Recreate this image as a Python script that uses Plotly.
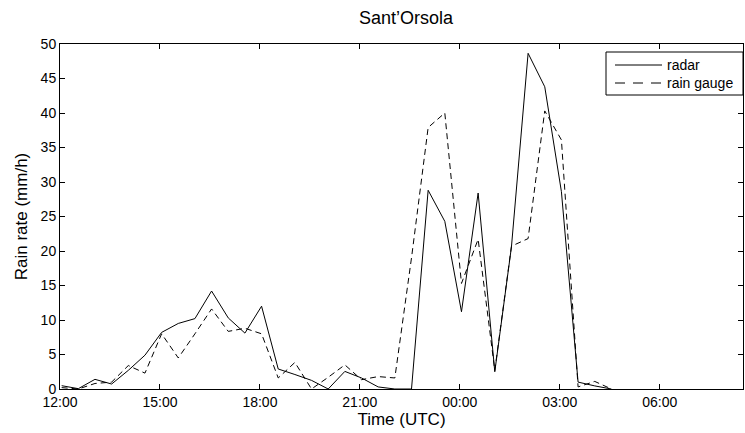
import plotly.graph_objects as go
from datetime import datetime, timedelta

# Sample times (UTC), 30-minute steps, running past midnight
time_labels = [
    "12:03", "12:33", "13:03", "13:33", "14:03", "14:33", "15:03", "15:33",
    "16:03", "16:33", "17:03", "17:33", "18:03", "18:33", "19:03", "19:33",
    "20:03", "20:33", "21:03", "21:33", "22:03", "22:33", "23:03", "23:33",
    "00:03", "00:33", "01:03", "01:33", "02:03", "02:33", "03:03", "03:33",
    "04:03", "04:33",
]

# Rain rate (mm/h)
radar = [
    0.48, 0.05, 1.4, 0.72, 2.7, 4.9, 8.2, 9.5,
    10.2, 14.2, 10.3, 8.1, 12.0, 2.9, 2.1, 1.25,
    0.0, 2.55, 1.6, 0.3, 0.0, 0.0, 28.8, 24.3,
    11.2, 28.4, 2.5, 20.6, 48.65, 43.8, 28.6, 1.0,
    0.45, 0.0,
]
rain_gauge = [
    0.2, 0.0, 0.8, 1.0, 3.4, 2.3, 8.0, 4.5,
    8.0, 11.6, 8.35, 8.8, 8.0, 1.6, 3.85, 0.0,
    1.7, 3.5, 1.35, 1.8, 1.6, 19.0, 37.9, 40.0,
    15.3, 21.7, 2.7, 20.7, 21.8, 40.3, 36.1, 0.3,
    1.1, 0.0,
]

tick_labels = ["12:00", "15:00", "18:00", "21:00", "00:00", "03:00", "06:00"]

series_names = ["radar", "rain gauge"]
series_dash = ["solid", "6px,4px"]


def to_datetimes(labels, start_day=datetime(2000, 1, 1)):
    """Turn HH:MM labels into datetimes, rolling over at midnight."""
    out, day, prev = [], start_day, None
    for lab in labels:
        h, m = map(int, lab.split(":"))
        if prev is not None and h < prev:
            day += timedelta(days=1)
        prev = h
        out.append(day.replace(hour=h, minute=m))
    return out


times = to_datetimes(time_labels)
tick_vals = to_datetimes(tick_labels)
x_start = datetime(2000, 1, 1, 12, 0)
x_end = datetime(2000, 1, 2, 8, 30)

font_family = "Liberation Sans, Arial, Helvetica, sans-serif"

W, H = 745, 433
M_L, M_R, M_T, M_B = 60, 2, 44, 44
PW, PH = W - M_L - M_R, H - M_T - M_B


def px_x(px):
    """Pixel column -> paper x."""
    return (px - M_L) / PW


def px_y(py):
    """Pixel row -> paper y."""
    return 1 - (py - M_T) / PH


fig = go.Figure()
for name, vals, dash in zip(series_names, [radar, rain_gauge], series_dash):
    fig.add_trace(go.Scatter(
        x=times, y=vals, mode="lines", name=name, showlegend=False,
        line=dict(color="black", width=1, dash=dash),
    ))

# Boxed legend in the upper right corner
legend_box = dict(x0=606, x1=743, y0=52, y1=95)
fig.add_shape(
    type="rect", xref="paper", yref="paper",
    x0=px_x(legend_box["x0"]), x1=px_x(legend_box["x1"]),
    y0=px_y(legend_box["y1"]), y1=px_y(legend_box["y0"]),
    line=dict(color="black", width=1), fillcolor="white", layer="above",
)
for row_y, name, dash in zip([65, 83], series_names, ["solid", "10px,8px"]):
    fig.add_shape(
        type="line", xref="paper", yref="paper",
        x0=px_x(615), x1=px_x(662), y0=px_y(row_y), y1=px_y(row_y),
        line=dict(color="black", width=1, dash=dash), layer="above",
    )
    fig.add_annotation(
        xref="paper", yref="paper", x=px_x(665), y=px_y(row_y),
        xanchor="left", yanchor="middle", showarrow=False, text=name,
        font=dict(family=font_family, size=14, color="black"),
    )

axis_common = dict(
    showline=True, linecolor="black", linewidth=1, mirror="ticks",
    ticks="inside", ticklen=5, tickcolor="black", tickwidth=1,
    showgrid=False, zeroline=False,
    tickfont=dict(family=font_family, size=14, color="black"),
)

fig.update_layout(
    width=W, height=H,
    margin=dict(l=M_L, r=M_R, t=M_T, b=M_B),
    paper_bgcolor="white", plot_bgcolor="white",
    font=dict(family=font_family, color="black"),
    title=dict(
        text="Sant’Orsola", x=406 / W, xanchor="center",
        y=1 - 18 / H, yanchor="middle", yref="container",
        font=dict(family=font_family, size=18, color="black"),
    ),
    xaxis=dict(
        type="date", range=[x_start, x_end],
        tickvals=tick_vals, ticktext=tick_labels,
        title=dict(text="Time (UTC)", standoff=0,
                   font=dict(family=font_family, size=17, color="black")),
        automargin=False,
        **axis_common,
    ),
    yaxis=dict(
        range=[0, 50], tick0=0, dtick=5,
        title=dict(text="Rain rate (mm/h)", standoff=8,
                   font=dict(family=font_family, size=17, color="black")),
        automargin=False,
        **axis_common,
    ),
    showlegend=False,
)

fig.write_html("out.html")
